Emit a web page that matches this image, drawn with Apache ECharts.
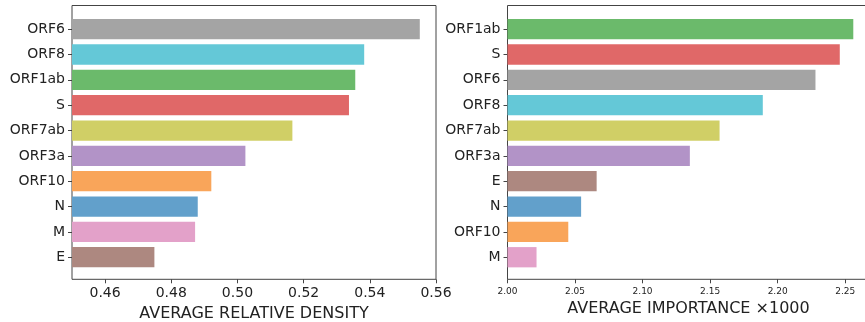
<!DOCTYPE html>
<html>
<head>
<meta charset="utf-8">
<script src="https://cdn.jsdelivr.net/npm/echarts@6/dist/echarts.min.js"></script>
<style>
html,body{margin:0;padding:0;background:#fff;}
#chart{width:865px;height:322px;}
</style>
</head>
<body>
<div id="chart"></div>
<script>
// ---- data ----
var leftCategories = ['ORF6','ORF8','ORF1ab','S','ORF7ab','ORF3a','ORF10','N','M','E'];
var leftValues = [0.5551, 0.5383, 0.5356, 0.5337, 0.5166, 0.5024, 0.4921, 0.4880, 0.4872, 0.4749];
var leftAxisMin = 0.45, leftAxisMax = 0.56, leftSplits = 5;
var leftTitle = 'AVERAGE RELATIVE DENSITY';

var rightCategories = ['ORF1ab','S','ORF6','ORF8','ORF7ab','ORF3a','E','N','ORF10','M'];
var rightValues = [2.256, 2.246, 2.228, 2.189, 2.157, 2.135, 2.066, 2.0545, 2.045, 2.0215];
var rightAxisMin = 2.00, rightAxisMax = 2.268, rightTickStep = 0.05;
var rightTitle = 'AVERAGE IMPORTANCE \u00d71000';

// ---- styles ----
var geneColors = {
  'ORF6':'#a4a4a4','ORF8':'#64c8d7','ORF1ab':'#6bba6b','S':'#e06868','ORF7ab':'#d0cf66',
  'ORF3a':'#b293c7','ORF10':'#f9a55a','N':'#62a0cb','M':'#e3a1c9','E':'#ad8880'
};
var FONT = 'DejaVu Sans';
var AX = '#444';

function barData(cats, vals){
  return vals.map(function(v,i){ return {value:v, itemStyle:{color:geneColors[cats[i]]}}; });
}

var chart = echarts.init(document.getElementById('chart'), null, {renderer:'canvas'});

function frameGrid(left, width){
  return {left:left, top:5.5, width:width, height:273.8, show:true, borderColor:AX, borderWidth:1,
          backgroundColor:'transparent', containLabel:false, outerBoundsMode:'none'};
}
function dataGrid(left, width){
  return {left:left, top:16.5, width:width, height:253.4, containLabel:false, outerBoundsMode:'none'};
}
function hiddenX(gi){ return {type:'value', gridIndex:gi, show:false, min:0, max:1}; }
function hiddenY(gi){ return {type:'value', gridIndex:gi, show:false, min:0, max:1}; }

function valueX(gi, min, max, fs, title, nameGap, offset, extra){
  var ax = {
    type:'value', gridIndex:gi, min:min, max:max, offset:offset,
    axisLine:{show:false},
    axisTick:{show:true, length:4, lineStyle:{color:AX, width:1}},
    splitLine:{show:false},
    axisLabel:{show:true, fontFamily:FONT, fontSize:fs, color:'#222', margin:extra.margin,
      showMinLabel:extra.showMin, showMaxLabel:extra.showMax,
      formatter:function(v){ return v.toFixed(2); }},
    name:title, nameLocation:'middle', nameGap:nameGap,
    nameTextStyle:{fontFamily:FONT, fontSize:16, color:'#222'}
  };
  if (extra.interval) ax.interval = extra.interval;
  if (extra.splitNumber) ax.splitNumber = extra.splitNumber;
  return ax;
}
function catY(gi, cats){
  return {
    type:'category', gridIndex:gi, data:cats, inverse:true, boundaryGap:true,
    axisLine:{show:false},
    axisTick:{show:true, length:4, alignWithLabel:true, lineStyle:{color:AX, width:1}},
    axisLabel:{fontFamily:FONT, fontSize:14, color:'#222', margin:7}
  };
}

var option = {
  backgroundColor:'#fff',
  animation:false,
  grid:[ frameGrid(72, 364), dataGrid(72, 364), frameGrid(507.5, 362), dataGrid(507.5, 362) ],
  xAxis:[
    hiddenX(0),
    valueX(1, leftAxisMin, leftAxisMax, 14, leftTitle, 25, 9.4,
      {showMin:false, showMax:true, splitNumber:leftSplits, margin:7.5}),
    hiddenX(2),
    valueX(3, rightAxisMin, rightAxisMax, 9, rightTitle, 14, 9.4,
      {showMin:true, showMax:false, interval:rightTickStep, margin:8})
  ],
  yAxis:[ hiddenY(0), catY(1, leftCategories), hiddenY(2), catY(3, rightCategories) ],
  series:[
    {type:'bar', xAxisIndex:1, yAxisIndex:1, data:barData(leftCategories, leftValues),
     barCategoryGap:'20%', silent:true},
    {type:'bar', xAxisIndex:3, yAxisIndex:3, data:barData(rightCategories, rightValues),
     barCategoryGap:'20%', silent:true}
  ]
};
chart.setOption(option);
</script>
</body>
</html>
